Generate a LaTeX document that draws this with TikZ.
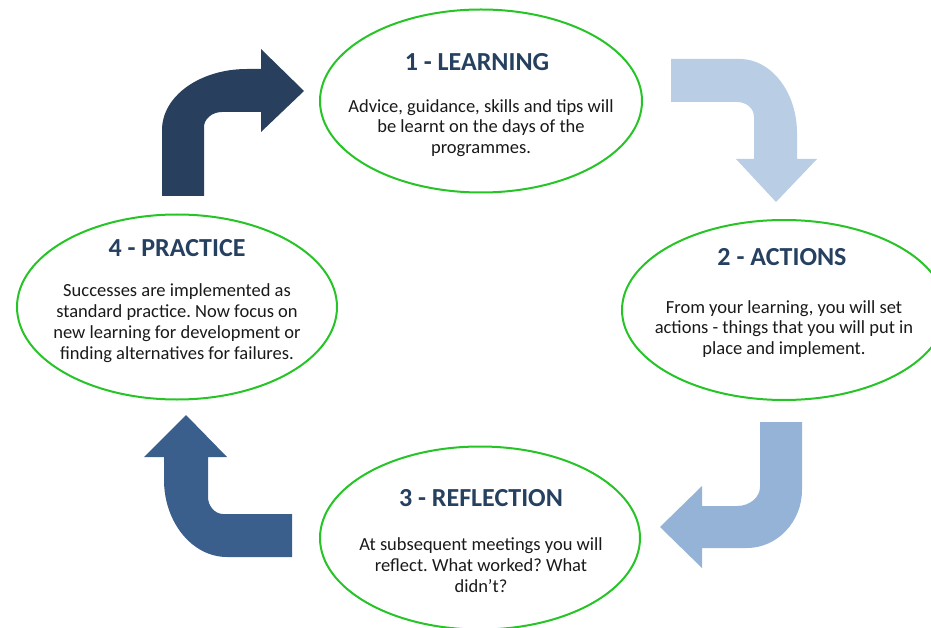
\documentclass[tikz,border=0pt]{standalone}
\usepackage{fontspec}
\setmainfont{Carlito}
\usetikzlibrary{shapes.geometric}
\definecolor{ringgreen}{RGB}{38,196,38}
\definecolor{headblue}{RGB}{38,64,96}
\definecolor{navyarrow}{RGB}{40,63,94}
\definecolor{palearrow}{RGB}{185,205,229}
\definecolor{softarrow}{RGB}{149,179,215}
\definecolor{steelarrow}{RGB}{59,95,140}

\begin{document}
\frenchspacing
\begin{tikzpicture}[x=1pt,y=-1pt,
  stage/.style={draw=ringgreen, line width=2pt, ellipse, inner sep=0pt},
  stagehead/.style={text=headblue, font=\bfseries\fontsize{26}{30}\selectfont, inner sep=0pt},
  stagetext/.style={align=center, font=\fontsize{18.5}{20.8}\selectfont, inner sep=0pt, text=black!90}]
\useasboundingbox (0,0) rectangle (931,628);

% bent arrows between the stages
\fill[navyarrow] (162,196) -- (162,130) .. controls (162,96) and (200,69) .. (247,69)
  -- (261,69) -- (261,49) -- (304,91) -- (261,132) -- (261,112) -- (222,112)
  .. controls (212,112) and (204,119) .. (204,127) -- (204,196) -- cycle;
\fill[palearrow] (671,59) -- (740,59) .. controls (771,59) and (797,92) .. (797,133)
  -- (797,159) -- (817,159) -- (776,202) -- (736,159) -- (754,159) -- (754,117)
  .. controls (754,108) and (746,102) .. (737,102) -- (671,102) -- cycle;
\fill[softarrow] (760,422) -- (802,422) -- (802,490) .. controls (802,522) and (777,548) .. (747,548)
  -- (702,548) -- (702,568) -- (660,527) -- (702,486) -- (702,506) -- (737,506)
  .. controls (750,506) and (760,497) .. (760,487) -- cycle;
\fill[steelarrow] (292,514) -- (223,514) .. controls (215,514) and (208,506) .. (208,497)
  -- (208,457) -- (227,457) -- (186,415) -- (144,457) -- (164,457) -- (164,480)
  .. controls (164,522) and (192,557) .. (227,557) -- (292,557) -- cycle;

% the four stages
\node[stage, minimum width=322pt, minimum height=183pt] (learn) at (481,101) {};
\node[stagehead] (learnhead) at (477,62) {1 - LEARNING};
\node[stagetext] (learnbody) at (481,128) {Advice, guidance, skills and tips will\\ be learnt on the days of the\\ programmes.};

\node[stage, minimum width=324pt, minimum height=180pt] (act) at (784,310) {};
\node[stagehead] (acthead) at (782,257) {2 - ACTIONS};
\node[stagetext] (actbody) at (784,329) {From your learning, you will set\\ actions - things that you will put in\\ place and implement.};

\node[stage, minimum width=320pt, minimum height=183pt] (refl) at (480,538) {};
\node[stagehead] (reflhead) at (481,498) {3 - REFLECTION};
\node[stagetext] (reflbody) at (481,565) {At subsequent meetings you will\\ reflect. What worked? What\\ didn’t?};

\node[stage, minimum width=320pt, minimum height=185pt] (prac) at (177,307) {};
\node[stagehead] (prachead) at (177,248) {4 - PRACTICE};
\node[stagetext] (pracbody) at (177,323) {Successes are implemented as\\ standard practice. Now focus on\\ new learning for development or\\ finding alternatives for failures.};
\end{tikzpicture}
\end{document}
